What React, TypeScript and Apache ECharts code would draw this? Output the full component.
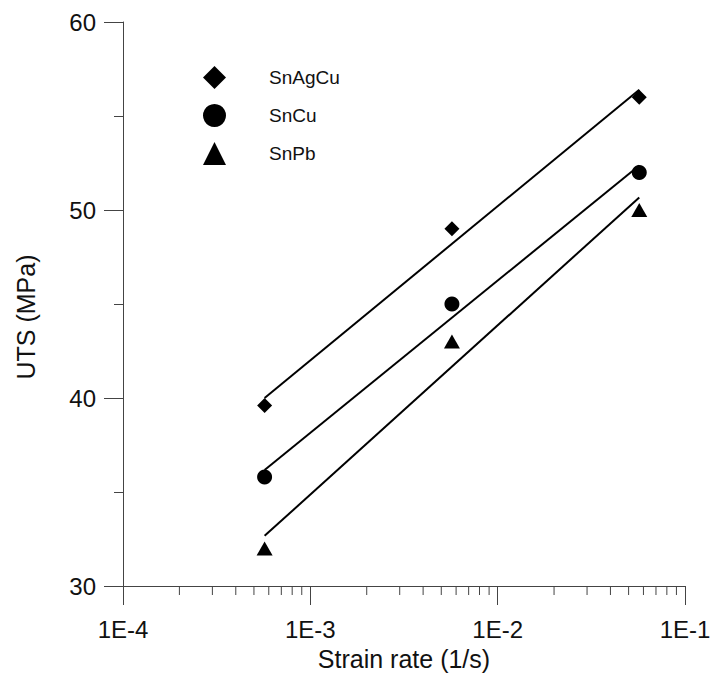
import React, { useEffect, useRef } from "react";
import * as echarts from "echarts";

// Strain rates (1/s) at which the tests were run
const strainRates = [5.7e-4, 5.7e-3, 5.7e-2];
// UTS (MPa) for each alloy
const snAgCu = [39.6, 49, 56];
const snCu = [35.8, 45, 52];
const snPb = [32, 43, 50];

const seriesNames = ["SnAgCu", "SnCu", "SnPb"];
const seriesSymbols = ["diamond", "circle", "triangle"];

// Axis ticks
const xDecades = [1e-4, 1e-3, 1e-2];
const xMinorMultipliers = [2, 3, 4, 5, 6, 7, 8, 9];

const FONT = '"Liberation Sans", Arial, Helvetica, sans-serif';
const INK = "#111";

// Least-squares fit of UTS against log10(strain rate), evaluated at the ends
function fitLine(xs: number[], ys: number[]): number[][] {
  const lx = xs.map((x) => Math.log10(x));
  const n = lx.length;
  const mx = lx.reduce((a, b) => a + b, 0) / n;
  const my = ys.reduce((a, b) => a + b, 0) / n;
  let sxy = 0;
  let sxx = 0;
  for (let i = 0; i < n; i++) {
    sxy += (lx[i] - mx) * (ys[i] - my);
    sxx += (lx[i] - mx) * (lx[i] - mx);
  }
  const slope = sxy / sxx;
  const icpt = my - slope * mx;
  const x0 = xs[0];
  const x1 = xs[n - 1];
  return [
    [x0, icpt + slope * Math.log10(x0)],
    [x1, icpt + slope * Math.log10(x1)],
  ];
}

export default function App() {
  const ref = useRef<HTMLDivElement>(null);

  useEffect(() => {
    if (!ref.current) return;
    const chart = echarts.init(ref.current, undefined, { renderer: "svg" });

    const allY = [snAgCu, snCu, snPb];
    const symbolSizes: any[] = [15, 15, [16, 14]];

    const scatterSeries = seriesNames.map((name, i) => ({
      name,
      type: "scatter",
      symbol: seriesSymbols[i],
      symbolSize: symbolSizes[i],
      itemStyle: { color: "#000", opacity: 1 },
      data: strainRates.map((x, j) => [x, allY[i][j]]),
      z: 3,
    }));

    const fitSeries = seriesNames.map((name, i) => ({
      name: name + " fit",
      type: "line",
      showSymbol: false,
      symbol: "none",
      lineStyle: { color: "#000", width: 2 },
      data: fitLine(strainRates, allY[i]),
      z: 2,
    }));

    const minorTickData: number[][] = [];
    xDecades.forEach((d) =>
      xMinorMultipliers.forEach((k) => minorTickData.push([d * k, 30]))
    );

    const option: any = {
      animation: false,
      backgroundColor: "#fff",
      textStyle: { fontFamily: FONT },
      grid: { left: 123, right: 30, top: 22, bottom: 102, containLabel: false },
      legend: {
        orient: "vertical",
        left: 198,
        top: 61,
        itemWidth: 23,
        itemHeight: 23,
        itemGap: 15,
        itemStyle: { color: "#000", opacity: 1 },
        formatter: "{t|{name}}",
        textStyle: {
          fontFamily: FONT,
          fontSize: 19,
          color: INK,
          rich: { t: { fontFamily: FONT, fontSize: 19, color: INK, padding: [0, 0, 0, 38] } },
        },
        data: seriesNames.map((n, i) => ({ name: n, icon: seriesSymbols[i] })),
        selectedMode: false,
      },
      xAxis: {
        type: "log",
        logBase: 10,
        min: 1e-4,
        max: 1e-1,
        name: "Strain rate (1/s)",
        nameLocation: "middle",
        nameGap: 60,
        nameTextStyle: { fontFamily: FONT, fontSize: 25, color: INK },
        axisLine: { lineStyle: { color: "#444", width: 1 } },
        axisTick: { length: 19, lineStyle: { color: "#444", width: 1 } },
        axisLabel: {
          margin: 31,
          fontSize: 24,
          color: INK,
          fontFamily: FONT,
          formatter: (v: number) => "1E" + Math.round(Math.log10(v)),
        },
        splitLine: { show: false },
      },
      yAxis: {
        type: "value",
        min: 30,
        max: 60,
        interval: 10,
        name: "UTS (MPa)",
        nameLocation: "middle",
        nameGap: 85,
        nameTextStyle: { fontFamily: FONT, fontSize: 25, color: INK, padding: [0, 26, 0, 0] },
        axisLine: { show: true, lineStyle: { color: "#444", width: 1 } },
        axisTick: { length: 19, lineStyle: { color: "#444", width: 1 } },
        minorTick: { show: true, splitNumber: 2, length: 9, lineStyle: { color: "#444", width: 1 } },
        axisLabel: { margin: 27, fontSize: 24, color: INK, fontFamily: FONT },
        splitLine: { show: false },
        minorSplitLine: { show: false },
      },
      series: [
        ...fitSeries,
        ...scatterSeries,
        {
          name: "x minor ticks",
          type: "custom",
          silent: true,
          clip: false,
          data: minorTickData,
          renderItem: (params: any, api: any) => {
            const p = api.coord([api.value(0), api.value(1)]);
            return {
              type: "line",
              shape: { x1: p[0], y1: p[1], x2: p[0], y2: p[1] + 9 },
              style: { stroke: "#444", lineWidth: 1 },
            };
          },
        },
      ],
    };

    chart.setOption(option);
    return () => chart.dispose();
  }, []);

  return (
    <div
      ref={ref}
      style={{ position: "fixed", left: 0, top: 0, width: 715, height: 688, background: "#fff" }}
    />
  );
}
